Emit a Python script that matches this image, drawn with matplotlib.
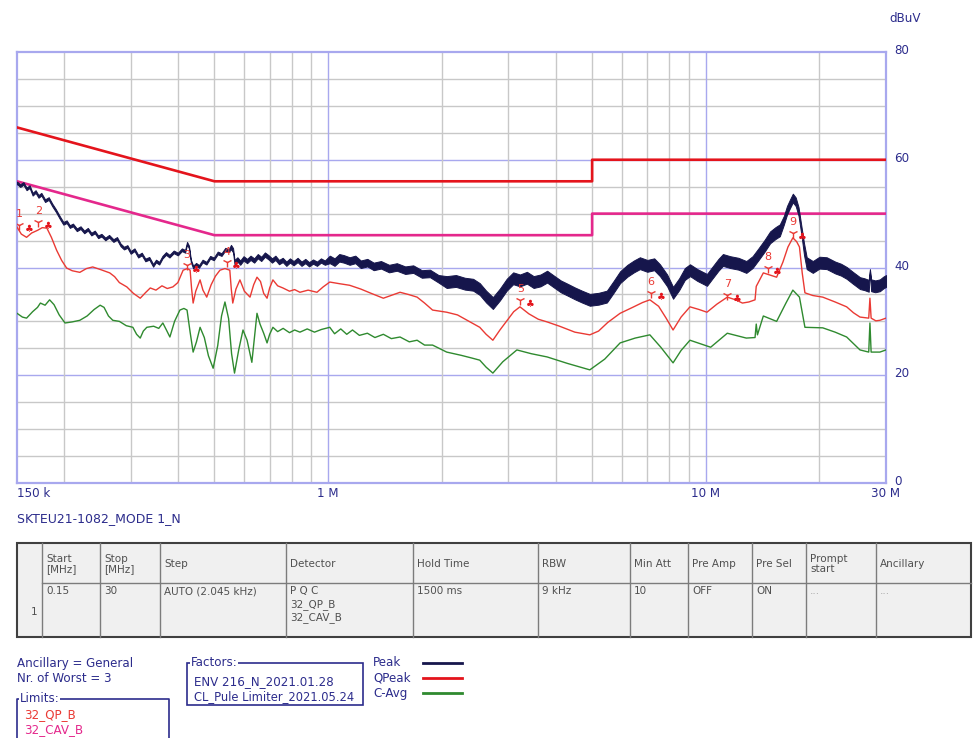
import numpy as np
import matplotlib.pyplot as plt
import matplotlib.transforms as mtransforms
from matplotlib.patches import Rectangle
from matplotlib.ticker import NullLocator

plt.rcParams['font.family'] = ['DejaVu Sans']

# ---- data (frequency in MHz, level in dBuV) ----
peak_f = [0.150, 0.153, 0.156, 0.159, 0.162, 0.165, 0.168, 0.171, 0.174, 0.178,
          0.182, 0.186, 0.190, 0.195, 0.199, 0.203, 0.207, 0.211, 0.216, 0.221,
          0.226, 0.231, 0.236, 0.241, 0.246, 0.251, 0.257, 0.263, 0.270, 0.276,
          0.282, 0.288, 0.294, 0.300, 0.307, 0.314, 0.321, 0.328, 0.336, 0.344,
          0.350, 0.357, 0.364, 0.372, 0.380, 0.390, 0.400, 0.410, 0.418, 0.423,
          0.428, 0.433, 0.439, 0.447, 0.455, 0.465, 0.476, 0.487, 0.498, 0.510,
          0.522, 0.534, 0.545, 0.553, 0.560, 0.565, 0.575, 0.585, 0.597, 0.610,
          0.623, 0.637, 0.651, 0.665, 0.680, 0.695, 0.710, 0.725, 0.741, 0.758,
          0.775, 0.792, 0.810, 0.830, 0.850, 0.870, 0.890, 0.912, 0.934, 0.957,
          0.980, 1.01, 1.04, 1.07, 1.10, 1.14, 1.18, 1.22, 1.27, 1.32,
          1.38, 1.45, 1.52, 1.60, 1.68, 1.77, 1.86, 1.96, 2.06, 2.18,
          2.30, 2.42, 2.52, 2.62, 2.73, 2.85, 2.97, 3.09, 3.22, 3.36,
          3.50, 3.65, 3.80, 3.96, 4.13, 4.30, 4.50, 4.70, 4.93, 5.20,
          5.47, 5.70, 5.93, 6.20, 6.45, 6.69, 7.00, 7.30, 7.56, 7.90,
          8.19, 8.50, 8.80, 9.08, 9.50, 10.07, 10.4, 10.8, 11.1, 11.6,
          12.2, 12.8, 13.3, 13.8, 14.3, 14.8, 15.3, 15.7, 16.1, 16.4,
          16.7, 17.0, 17.3, 17.6, 17.9, 18.2, 18.5, 19.2, 20.0, 20.9,
          22.0, 22.8, 23.6, 24.5, 25.6, 26.3, 27.0, 27.2, 27.4, 28.1,
          28.9, 29.5, 30.0]
peak_db = [55.7, 55.2, 55.6, 54.6, 55.0, 53.6, 54.1, 53.2, 53.6, 52.4,
           52.8, 51.6, 50.6, 49.2, 48.2, 48.5, 47.6, 47.9, 47.0, 47.4,
           46.6, 47.1, 46.2, 46.6, 45.7, 46.0, 45.3, 45.8, 45.0, 45.4,
           44.2, 43.6, 43.9, 42.8, 43.3, 42.1, 42.5, 41.4, 41.7, 40.4,
           41.2, 40.8, 41.9, 42.6, 42.1, 42.9, 42.5, 43.3, 43.0, 44.5,
           43.8, 41.2, 40.1, 40.6, 40.2, 41.2, 40.8, 41.9, 41.6, 42.7,
           42.4, 43.4, 43.1, 43.8, 43.2, 41.0, 41.5, 40.9, 41.7, 41.2,
           41.8, 41.3, 42.1, 41.6, 42.4, 41.9, 41.3, 41.8, 41.0, 41.4,
           40.7, 41.3, 40.8, 41.4, 40.7, 41.2, 40.6, 41.1, 40.7, 41.3,
           40.9, 41.5, 41.0, 41.8, 41.6, 41.2, 41.5, 40.6, 40.9, 40.2,
           40.5, 39.8, 40.1, 39.5, 39.7, 38.8, 38.9, 37.9, 37.3, 37.5,
           37.0, 36.8, 36.0, 34.6, 33.4, 35.0, 36.8, 38.0, 37.6, 38.1,
           37.3, 37.6, 38.3, 37.4, 36.5, 35.9, 35.2, 34.6, 34.0, 34.2,
           34.6, 36.4, 38.2, 39.4, 40.2, 40.8, 40.3, 40.6, 39.5, 37.6,
           35.3, 36.9, 38.8, 39.5, 38.6, 37.7, 39.0, 40.5, 41.4, 41.0,
           40.7, 40.1, 41.0, 42.5, 44.0, 45.6, 46.4, 46.9, 48.8, 50.6,
           51.8, 52.9, 52.2, 50.4, 47.0, 43.4, 40.8, 40.1, 40.9, 40.8,
           40.0, 39.6, 39.0, 38.1, 37.1, 36.9, 36.6, 39.5, 36.7, 36.5,
           36.7, 37.2, 37.5]
# half width of the noisy peak band, per frequency range
band_edges = [0.55, 1.0, 2.0, 16.0, 18.0, 27.1, 27.3]
band_width = [0.25, 0.4, 0.7, 1.1, 0.8, 1.1, 0.2, 1.1]

qp_f = [0.150, 0.154, 0.159, 0.164, 0.170, 0.175, 0.180, 0.185, 0.191, 0.197,
        0.203, 0.210, 0.220, 0.229, 0.238, 0.250, 0.264, 0.272, 0.280, 0.293,
        0.305, 0.318, 0.328, 0.338, 0.350, 0.363, 0.375, 0.388, 0.400, 0.413,
        0.424, 0.431, 0.435, 0.439, 0.446, 0.458, 0.466, 0.477, 0.490, 0.503,
        0.517, 0.533, 0.549, 0.554, 0.559, 0.570, 0.584, 0.600, 0.621, 0.635,
        0.648, 0.662, 0.675, 0.689, 0.700, 0.714, 0.735, 0.759, 0.790, 0.815,
        0.842, 0.885, 0.934, 0.970, 1.01, 1.07, 1.14, 1.22, 1.30, 1.40,
        1.48, 1.55, 1.63, 1.72, 1.80, 1.89, 2.06, 2.20, 2.36, 2.52,
        2.62, 2.73, 2.85, 2.98, 3.10, 3.22, 3.40, 3.60, 3.80, 4.10,
        4.50, 4.93, 5.20, 5.50, 5.93, 6.40, 6.80, 7.11, 7.50, 7.85,
        8.19, 8.60, 9.08, 9.60, 10.07, 10.7, 11.4, 12.0, 12.5, 13.0,
        13.5, 13.6, 14.2, 14.8, 15.4, 16.0, 16.5, 17.0, 17.4, 17.7,
        18.0, 18.3, 19.2, 20.4, 22.0, 23.6, 24.6, 25.6, 27.0, 27.2,
        27.4, 28.2, 28.9, 30.0]
qp_db = [47.5, 46.2, 45.6, 46.4, 46.9, 47.4, 47.3, 45.6, 43.2, 41.3,
         39.9, 39.4, 39.1, 39.8, 40.1, 39.6, 39.0, 38.3, 37.2, 36.4,
         35.2, 34.3, 35.3, 36.2, 35.8, 36.6, 36.1, 36.4, 37.2, 39.5,
         39.8, 39.5, 36.0, 33.4, 35.6, 37.7, 35.8, 34.5, 36.8, 38.4,
         39.5, 39.8, 39.5, 36.0, 33.4, 36.0, 37.7, 35.6, 34.5, 36.8,
         38.2, 37.4, 35.2, 34.3, 36.2, 37.7, 36.6, 36.2, 35.6, 35.9,
         35.4, 35.8, 35.4, 36.4, 37.3, 37.0, 36.7, 36.0, 35.2, 34.3,
         34.9, 35.4, 35.0, 34.5, 33.4, 32.1, 31.7, 31.2, 30.0, 28.9,
         27.6, 26.5, 28.4, 30.2, 31.8, 32.7, 31.4, 30.4, 29.9, 29.1,
         28.0, 27.5, 28.2, 29.8, 31.5, 32.6, 33.5, 34.0, 32.8, 30.6,
         28.4, 30.8, 32.7, 32.2, 31.7, 33.2, 34.5, 34.0, 33.4, 33.6,
         34.0, 36.5, 39.0, 38.6, 38.2, 41.0, 43.8, 45.5, 44.8, 43.8,
         39.0, 35.3, 34.8, 34.5, 33.6, 32.7, 31.6, 30.8, 30.6, 34.3,
         30.6, 30.1, 30.2, 30.6]

cav_f = [0.150, 0.155, 0.159, 0.165, 0.170, 0.173, 0.178, 0.183, 0.188, 0.194,
         0.201, 0.210, 0.220, 0.230, 0.240, 0.249, 0.255, 0.262, 0.269, 0.280,
         0.292, 0.304, 0.311, 0.318, 0.324, 0.331, 0.345, 0.356, 0.365, 0.373,
         0.381, 0.392, 0.405, 0.415, 0.423, 0.431, 0.439, 0.448, 0.458, 0.470,
         0.482, 0.496, 0.510, 0.522, 0.533, 0.545, 0.555, 0.565, 0.580, 0.595,
         0.610, 0.628, 0.638, 0.648, 0.660, 0.675, 0.689, 0.700, 0.714, 0.735,
         0.760, 0.790, 0.815, 0.842, 0.880, 0.920, 0.960, 1.01, 1.04, 1.08,
         1.12, 1.16, 1.21, 1.27, 1.33, 1.40, 1.47, 1.55, 1.64, 1.72,
         1.80, 1.89, 2.06, 2.25, 2.40, 2.52, 2.62, 2.73, 2.90, 3.16,
         3.45, 3.80, 4.30, 4.93, 5.40, 5.93, 6.50, 7.11, 7.60, 8.19,
         8.60, 9.08, 10.3, 11.4, 12.8, 13.5, 13.6, 13.7, 14.2, 15.4,
         16.3, 17.0, 17.7, 18.3, 20.4, 22.0, 23.6, 25.6, 27.0, 27.2,
         27.4, 28.9, 30.0]
cav_db = [31.5, 30.8, 30.6, 31.8, 32.6, 33.4, 33.0, 34.0, 33.1, 31.2,
          29.7, 29.9, 30.2, 31.0, 32.2, 33.0, 32.6, 31.0, 30.2, 30.0,
          29.2, 28.9, 27.6, 26.9, 28.2, 28.9, 29.1, 28.7, 29.7, 28.4,
          27.1, 30.0, 32.1, 32.4, 32.1, 28.0, 24.3, 26.2, 28.9, 27.0,
          23.6, 21.3, 25.5, 31.0, 33.6, 30.5, 24.0, 20.4, 24.8, 28.4,
          26.5, 22.4, 27.0, 31.5, 29.5, 27.8, 26.0, 27.6, 28.9, 28.1,
          28.7, 27.9, 28.4, 28.0, 28.6, 28.0, 28.5, 28.9, 27.7, 28.6,
          27.6, 28.4, 27.4, 27.8, 27.0, 27.6, 26.8, 27.1, 26.2, 26.5,
          25.6, 25.6, 24.3, 23.7, 23.2, 22.8, 21.5, 20.4, 22.5, 24.7,
          24.0, 23.4, 22.2, 21.0, 23.0, 26.0, 26.9, 27.5, 25.2, 22.3,
          24.6, 26.5, 25.2, 27.8, 26.9, 27.0, 29.5, 27.5, 31.0, 30.0,
          33.4, 35.8, 34.5, 28.9, 28.8, 28.0, 27.1, 24.7, 24.3, 29.7,
          24.3, 24.3, 24.7]

limit_f = [0.15, 0.5, 5, 5, 30]
qp_limit = [66, 56, 56, 60, 60]
av_limit = [56, 46, 46, 50, 50]

marker_no = [1, 2, 3, 4, 5, 6, 7, 8, 9]
marker_f = [0.152, 0.171, 0.422, 0.539, 3.23, 7.17, 11.4, 14.6, 17.0]
marker_db = [47.9, 48.5, 40.4, 41.0, 34.0, 35.3, 34.9, 39.9, 46.4]

x_ticks = [0.15, 1, 10, 30]
x_labels = ['150 k', '1 M', '10 M', '30 M']
y_ticks = [0, 20, 40, 60, 80]

table_header = ['', 'Start\n[MHz]', 'Stop\n[MHz]', 'Step', 'Detector', 'Hold Time', 'RBW',
                'Min Att', 'Pre Amp', 'Pre Sel', 'Prompt\nstart', 'Ancillary']
table_row = ['1', '0.15', '30', 'AUTO (2.045 kHz)', 'P Q C\n32_QP_B\n32_CAV_B', '1500 ms',
             '9 kHz', '10', 'OFF', 'ON', '...', '...']

# ---- colours ----
navy = '#16164c'
txt_blue = '#2c2c8c'
red_trace = '#ea3a34'
red_limit = '#e4141c'
magenta = '#e4288c'
green = '#2f8a2f'
grid_gray = '#c8c8c8'
grid_blue = '#a8a8ee'
fs = 7.5      # table
fs_info = 8.6 # info block and axis labels

W, H = 973, 738
fig = plt.figure(figsize=(W / 100, H / 100), dpi=100)

# overlay in pixel coordinates for the table and info boxes
ov = fig.add_axes([0, 0, 1, 1])
ov.set_xlim(0, W)
ov.set_ylim(H, 0)
ov.axis('off')

ax = fig.add_axes([17 / W, 1 - 483 / H, 869 / W, 431 / H])
ax.set_zorder(2)
ax.set_xscale('log')
ax.set_xlim(0.15, 30)
ax.set_ylim(0, 80)

# grid
for v in range(5, 80, 5):
    ax.axhline(v, color=grid_blue if v % 20 == 0 else grid_gray, lw=1, zorder=0)
for dec in [0.1, 1, 10]:
    for m in range(1, 10):
        f = dec * m
        if 0.15 < f < 30:
            ax.axvline(f, color=grid_blue if m == 1 else grid_gray, lw=1, zorder=0)
for s in ax.spines.values():
    s.set_color(grid_blue)
    s.set_linewidth(1.6)

# limits
ax.plot(limit_f, qp_limit, color=red_limit, lw=1.9, zorder=3)
ax.plot(limit_f, av_limit, color=magenta, lw=1.9, zorder=3)

# traces
spread = np.array(band_width)[np.searchsorted(band_edges, peak_f)]
ax.fill_between(peak_f, np.array(peak_db) - spread, np.array(peak_db) + spread,
                color=navy, lw=0.7, zorder=4)
ax.plot(qp_f, qp_db, color=red_trace, lw=1.0, zorder=5)
ax.plot(cav_f, cav_db, color=green, lw=1.0, zorder=5)

# markers
for n, f, v in zip(marker_no, marker_f, marker_db):
    ax.plot(f, v, marker='1', color=red_trace, ms=7, mew=1, zorder=6)
    ax.annotate(str(n), (f, v), xytext=(0, 4), textcoords='offset points',
                ha='center', va='bottom', color=red_trace, fontsize=8, zorder=6)
    ax.annotate('\u2663', (f, v), xytext=(7, -3), textcoords='offset points',
                ha='center', va='center', color=red_limit, fontsize=7, zorder=6)

# ticks
ax.xaxis.set_minor_locator(NullLocator())
ax.set_xticks(x_ticks, x_labels)
ax.set_yticks(y_ticks)
ax.yaxis.tick_right()
ax.tick_params(length=0, labelsize=fs_info, labelcolor=txt_blue)
ax.tick_params(axis='x', pad=3)
ax.tick_params(axis='y', pad=6)
ax.get_xticklabels()[0].set_ha('left')
lift = mtransforms.ScaledTranslation(0, 0.03, fig.dpi_scale_trans)
for lab in ax.get_yticklabels():
    lab.set_transform(lab.get_transform() + lift)
ov.text(905, 18, 'dBuV', color=txt_blue, fontsize=fs_info, ha='center', va='center')

ov.text(17, 519, 'SKTEU21-1082_MODE 1_N', color=txt_blue, fontsize=9, va='center')

# settings table
col_x = [17, 42, 100, 160, 286, 413, 538, 630, 688, 752, 806, 876, 971]
t_top, t_mid, t_bot = 543, 583, 637
ov.add_patch(Rectangle((col_x[0], t_top), col_x[-1] - col_x[0], t_bot - t_top,
                       fc='#f0f0f0', ec='#404040', lw=1.5))
for x in col_x[1:-1]:
    ov.plot([x, x], [t_top, t_bot], color='#7c7c7c', lw=1)
ov.plot([col_x[1], col_x[-1]], [t_mid, t_mid], color='#7c7c7c', lw=1)
tc = '#505050'
for i, h in enumerate(table_header):
    if h:
        ov.text(col_x[i] + 4, (t_top + t_mid) / 2 + 1, h, color=tc, fontsize=fs,
                va='center', linespacing=1.1)
for i, c in enumerate(table_row):
    if i == 0:
        ov.text(col_x[1] - 5, (t_mid + t_bot) / 2 + 2, c, color=tc, fontsize=fs,
                ha='right', va='center')
    else:
        ov.text(col_x[i] + 4, t_mid + 3, c, color='#a8a8a8' if c == '...' else tc,
                fontsize=fs, va='top', linespacing=1.35)

# info block
ov.text(17, 663, 'Ancillary = General', color=txt_blue, fontsize=fs_info, va='center')
ov.text(17, 678, 'Nr. of Worst = 3', color=txt_blue, fontsize=fs_info, va='center')
ov.plot([17, 17, 169, 169], [745, 699, 699, 745], color=txt_blue, lw=1.2)
ov.text(20, 699, 'Limits:', color=txt_blue, fontsize=fs_info, va='center',
        bbox=dict(fc='white', ec='none', pad=0.5))
ov.text(24, 715, '32_QP_B', color=red_trace, fontsize=fs_info, va='center')
ov.text(24, 730, '32_CAV_B', color=magenta, fontsize=fs_info, va='center')

ov.add_patch(Rectangle((187, 663), 176, 42, fc='none', ec=txt_blue, lw=1.2))
ov.text(191, 663, 'Factors:', color=txt_blue, fontsize=fs_info, va='center',
        bbox=dict(fc='white', ec='none', pad=0.5))
ov.text(194, 682, 'ENV 216_N_2021.01.28', color=txt_blue, fontsize=fs_info, va='center')
ov.text(194, 697, 'CL_Pule Limiter_2021.05.24', color=txt_blue, fontsize=fs_info - 0.3,
        va='center')

for y, name, col in [(663, 'Peak', navy), (678, 'QPeak', red_limit), (693, 'C-Avg', green)]:
    ov.text(373, y, name, color=txt_blue, fontsize=fs_info, va='center')
    ov.plot([423, 462], [y, y], color=col, lw=2)

fig.savefig('out.png', dpi=100)
